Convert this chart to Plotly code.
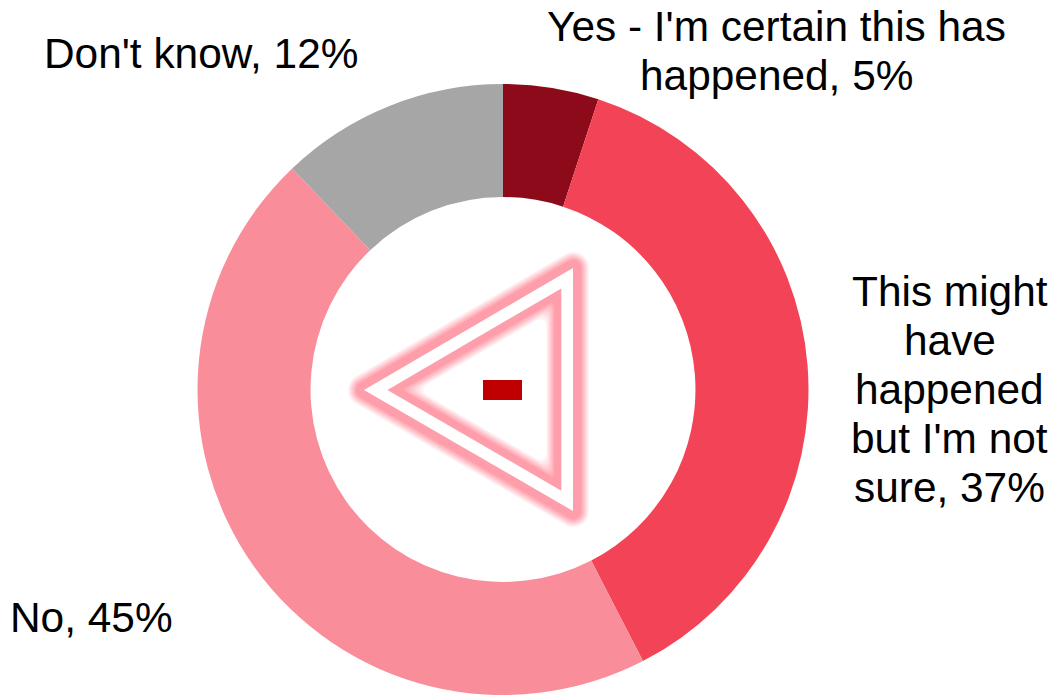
import math
import plotly.graph_objects as go

WIDTH, HEIGHT = 1056, 695

# Survey responses, clockwise from twelve o'clock
categories = ["Yes - I'm certain this has happened", "This might have happened but I'm not sure", "No", "Don't know"]
values = [5, 37, 45, 12]
slice_colors = ["#8C0A19", "#F34457", "#F98E9A", "#A6A6A6"]

# Wrapped label text, one entry per drawn line
label_lines = [
    ["Yes - I'm certain this has", "happened, 5%"],
    ["This might", "have", "happened", "but I'm not", "sure, 37%"],
    ["No, 45%"],
    ["Don't know, 12%"],
]
# Centre of each label block, in pixels from the top left
label_centres = [(776, 51), (949.5, 389), (91, 617), (201, 53)]
LINE_STEP = 49
FONT = dict(family="Liberation Sans, Arial, sans-serif", size=42.4, color="#000000")

# Warning triangle, in pixels: outer outline corners and the two halo colours
TRIANGLE_OUTER = [(573, 268), (573, 511), (364, 390)]
TRIANGLE_SCALE_INNER = 58 / 69.7
HALO = "#FF9EAB"
HALO_SOLID = 7
HALO_FADE = 9


def px(x):
    return x / WIDTH


def py(y):
    return 1 - y / HEIGHT


def scaled(corners, k):
    """Corners scaled about the triangle's centroid."""
    cx = sum(p[0] for p in corners) / 3
    cy = sum(p[1] for p in corners) / 3
    return [(cx + (x - cx) * k, cy + (y - cy) * k) for x, y in corners]


def rounded(corners, r, steps=10):
    """Outline of the corners grown outward by r with circular joins."""
    n = len(corners)
    normals = []
    for i in range(n):
        x0, y0 = corners[i]
        x1, y1 = corners[(i + 1) % n]
        length = math.hypot(x1 - x0, y1 - y0)
        normals.append(((y1 - y0) / length, -(x1 - x0) / length))
    cx = sum(p[0] for p in corners) / n
    cy = sum(p[1] for p in corners) / n
    # Make the normals point away from the centroid
    mx, my = (corners[0][0] + corners[1][0]) / 2, (corners[0][1] + corners[1][1]) / 2
    sign = 1 if (mx - cx) * normals[0][0] + (my - cy) * normals[0][1] > 0 else -1
    normals = [(a * sign, b * sign) for a, b in normals]
    points = []
    for i in range(n):
        a0 = math.atan2(normals[i - 1][1], normals[i - 1][0])
        a1 = math.atan2(normals[i][1], normals[i][0])
        delta = (a1 - a0 + math.pi) % (2 * math.pi) - math.pi
        for s in range(steps + 1):
            a = a0 + delta * s / steps
            points.append((corners[i][0] + r * math.cos(a), corners[i][1] + r * math.sin(a)))
    return points


def polygon_shape(points, color):
    path = "M " + " L ".join(f"{px(x):.5f} {py(y):.5f}" for x, y in points) + " Z"
    return dict(type="path", xref="paper", yref="paper", path=path,
                fillcolor=color, line=dict(width=0), layer="above")


def rgba(color, alpha):
    r, g, b = int(color[1:3], 16), int(color[3:5], 16), int(color[5:7], 16)
    return f"rgba({r},{g},{b},{alpha:.4f})"


fig = go.Figure(
    go.Pie(
        labels=categories,
        values=values,
        hole=0.63,
        sort=False,
        direction="clockwise",
        rotation=0,
        textinfo="none",
        hoverinfo="label+value",
        marker=dict(colors=slice_colors, line=dict(width=0)),
        domain=dict(x=[px(197), px(809)], y=[0, py(84)]),
        showlegend=False,
    )
)

shapes = []
outer = TRIANGLE_OUTER
inner = scaled(TRIANGLE_OUTER, TRIANGLE_SCALE_INNER)
inner_radius = 58

# Outer halo: stacked translucent layers that build up towards the outline
for i in range(1, HALO_FADE + 1):
    d = HALO_SOLID + HALO_FADE - i + 1
    shapes.append(polygon_shape(rounded(outer, d), rgba(HALO, 1 / (HALO_FADE - i + 1))))
# White outline, then the solid band of the inner halo
shapes.append(polygon_shape(outer, "#FFFFFF"))
shapes.append(polygon_shape(inner, HALO))
# Inner halo: white layers that build up towards the middle
for i in range(1, HALO_FADE + 1):
    d = HALO_SOLID + i - 1
    r = 2 + i * 0.5
    k = (inner_radius - d - r) / inner_radius
    shapes.append(polygon_shape(rounded(scaled(inner, k), r), rgba("#FFFFFF", 1 / (HALO_FADE - i + 1))))

# Minus bar inside the triangle
shapes.append(dict(
    type="rect", xref="paper", yref="paper",
    x0=px(483), x1=px(522), y0=py(380), y1=py(400),
    fillcolor="#C00000", line=dict(width=0),
))

annotations = []
for lines, (cx, cy) in zip(label_lines, label_centres):
    top = cy - LINE_STEP * (len(lines) - 1) / 2
    for i, line in enumerate(lines):
        annotations.append(dict(
            text=line, xref="paper", yref="paper",
            x=px(cx), y=py(top + i * LINE_STEP),
            xanchor="center", yanchor="middle",
            showarrow=False, font=FONT,
        ))

fig.update_layout(
    width=WIDTH, height=HEIGHT,
    margin=dict(l=0, r=0, t=0, b=0),
    paper_bgcolor="#FFFFFF",
    shapes=shapes,
    annotations=annotations,
)

fig.write_html("out.html")
